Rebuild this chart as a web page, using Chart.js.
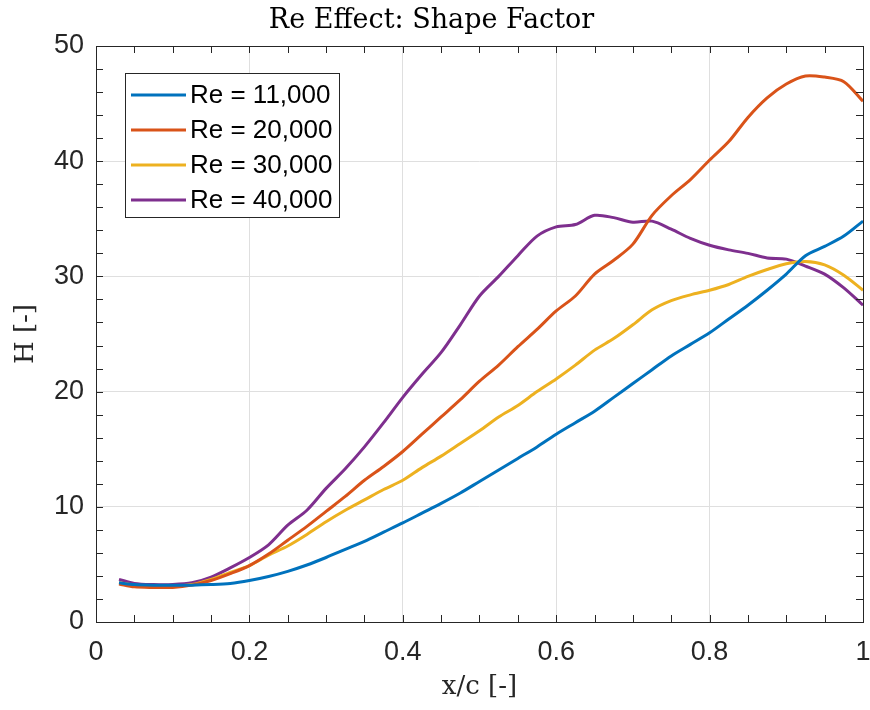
<!DOCTYPE html>
<html>
<head>
<meta charset="utf-8">
<title>Re Effect: Shape Factor</title>
<script src="https://cdn.jsdelivr.net/npm/chart.js@4/dist/chart.umd.min.js"></script>
<style>
  html, body { margin: 0; padding: 0; background: #ffffff; }
  canvas { display: block; }
</style>
</head>
<body>
<canvas id="chart" width="870" height="710"></canvas>
<script>
// Chordwise stations x/c shared by all runs
const xc = [0.03, 0.05, 0.075, 0.1, 0.125, 0.15, 0.175, 0.2, 0.225, 0.25,
            0.275, 0.3, 0.325, 0.35, 0.375, 0.4, 0.425, 0.45, 0.475, 0.5,
            0.525, 0.55, 0.575, 0.6, 0.625, 0.65, 0.675, 0.7, 0.725, 0.75,
            0.775, 0.8, 0.825, 0.85, 0.875, 0.9, 0.925, 0.95, 0.975, 1.0];

// Shape factor H for each Reynolds number
const hRe11k = [3.4, 3.25, 3.2, 3.2, 3.2, 3.25, 3.35, 3.6, 3.95, 4.4,
                4.95, 5.6, 6.3, 7.0, 7.8, 8.6, 9.45, 10.3, 11.2, 12.2,
                13.2, 14.2, 15.2, 16.3, 17.3, 18.3, 19.5, 20.7, 21.9, 23.1,
                24.1, 25.1, 26.3, 27.5, 28.8, 30.2, 31.8, 32.6, 33.5, 34.8];
const hRe20k = [3.3, 3.05, 3.0, 3.0, 3.2, 3.6, 4.2, 4.9, 5.9, 7.1,
                8.3, 9.6, 10.9, 12.3, 13.5, 14.8, 16.3, 17.8, 19.3, 20.9,
                22.3, 23.9, 25.4, 27.0, 28.3, 30.2, 31.4, 32.8, 35.3, 37.0,
                38.4, 40.1, 41.7, 43.8, 45.5, 46.7, 47.4, 47.3, 46.9, 45.2];
const hRe30k = [3.4, 3.2, 3.1, 3.1, 3.25, 3.7, 4.3, 4.9, 5.8, 6.6,
                7.6, 8.7, 9.7, 10.6, 11.5, 12.3, 13.4, 14.4, 15.5, 16.6,
                17.8, 18.8, 20.0, 21.1, 22.3, 23.6, 24.6, 25.8, 27.1, 27.9,
                28.4, 28.8, 29.3, 30.0, 30.6, 31.1, 31.3, 31.0, 30.1, 28.8];
const hRe40k = [3.7, 3.35, 3.25, 3.25, 3.4, 3.9, 4.7, 5.6, 6.7, 8.4,
                9.7, 11.6, 13.3, 15.2, 17.3, 19.5, 21.5, 23.4, 25.8, 28.3,
                30.0, 31.8, 33.5, 34.3, 34.5, 35.3, 35.1, 34.7, 34.8, 34.1,
                33.3, 32.7, 32.3, 32.0, 31.6, 31.5, 30.9, 30.2, 29.0, 27.5];

const seriesLabels = ['Re = 11,000', 'Re = 20,000', 'Re = 30,000', 'Re = 40,000'];
const seriesValues = [hRe11k, hRe20k, hRe30k, hRe40k];
const seriesColors = ['#0072BD', '#D95319', '#EDB120', '#7E2F8E'];

// Axis tick values
const xTicks = [0, 0.2, 0.4, 0.6, 0.8, 1];
const yTicks = [0, 10, 20, 30, 40, 50];
const xMinorStep = 0.05;
const yMinorStep = 2;

const axisInk = '#262626';
const sansFont = '"Liberation Sans", Arial, Helvetica, sans-serif';
const serifFont = '"DejaVu Serif", "Liberation Serif", serif';

const datasets = seriesValues.map((vals, i) => ({
  label: seriesLabels[i],
  data: xc.map((x, j) => ({ x: x, y: vals[j] })),
  borderColor: seriesColors[i],
  backgroundColor: seriesColors[i],
  borderWidth: 3,
  pointRadius: 0,
  tension: 0.3,
  fill: false
}));

// Box frame, inward ticks on all four sides, and the legend inside the axes
const framePlugin = {
  id: 'frame',
  afterDatasetsDraw(chart) {
    const { ctx, chartArea: a, scales } = chart;
    const xs = scales.x, ys = scales.y;
    const tickLen = 7;
    ctx.save();
    ctx.strokeStyle = axisInk;
    ctx.lineWidth = 1;
    ctx.beginPath();
    for (let v = xs.min; v <= xs.max + 1e-9; v += xMinorStep) {
      const px = Math.round(xs.getPixelForValue(v)) + 0.5;
      ctx.moveTo(px, a.bottom); ctx.lineTo(px, a.bottom - tickLen);
      ctx.moveTo(px, a.top); ctx.lineTo(px, a.top + tickLen);
    }
    for (let v = ys.min; v <= ys.max + 1e-9; v += yMinorStep) {
      const py = Math.round(ys.getPixelForValue(v)) + 0.5;
      ctx.moveTo(a.left, py); ctx.lineTo(a.left + tickLen, py);
      ctx.moveTo(a.right, py); ctx.lineTo(a.right - tickLen, py);
    }
    ctx.stroke();
    ctx.strokeRect(Math.round(a.left) + 0.5, Math.round(a.top) + 0.5,
                   Math.round(a.right - a.left), Math.round(a.bottom - a.top));

    // legend
    const lx = a.left + 29, ly = a.top + 27, lw = 214, lh = 144;
    const rowH = 35;
    ctx.fillStyle = '#ffffff';
    ctx.fillRect(lx, ly, lw, lh);
    ctx.strokeStyle = axisInk;
    ctx.strokeRect(lx + 0.5, ly + 0.5, lw, lh);
    ctx.font = '26px ' + sansFont;
    ctx.textBaseline = 'middle';
    ctx.textAlign = 'left';
    chart.data.datasets.forEach((ds, i) => {
      const cy = ly + 22 + i * rowH;
      ctx.strokeStyle = ds.borderColor;
      ctx.lineWidth = 3;
      ctx.beginPath();
      ctx.moveTo(lx + 6, cy);
      ctx.lineTo(lx + 61, cy);
      ctx.stroke();
      ctx.fillStyle = '#000000';
      ctx.fillText(ds.label, lx + 65, cy + 1);
    });
    ctx.restore();
  }
};

new Chart(document.getElementById('chart'), {
  type: 'line',
  data: { datasets: datasets },
  plugins: [framePlugin],
  options: {
    responsive: false,
    animation: false,
    layout: { padding: { top: 0, right: 7, bottom: 0, left: 0 } },
    plugins: {
      legend: { display: false },
      tooltip: { enabled: false },
      title: {
        display: true,
        text: 'Re Effect: Shape Factor',
        color: '#000000',
        font: { family: serifFont, size: 27, weight: 'normal', lineHeight: 1.2 },
        padding: { top: 5, bottom: 8.6 }
      }
    },
    scales: {
      x: {
        type: 'linear',
        min: 0,
        max: 1,
        afterBuildTicks(scale) { scale.ticks = xTicks.map(v => ({ value: v })); },
        afterFit(scale) {
          scale.height = 88;
          scale.paddingLeft = 0;
          scale.paddingRight = 0;
        },
        grid: { color: '#dfdfdf', lineWidth: 1, drawTicks: false },
        border: { display: false },
        ticks: {
          color: axisInk,
          padding: 14,
          maxRotation: 0,
          font: { family: sansFont, size: 27 },
          callback: v => String(v)
        },
        title: {
          display: true,
          text: 'x/c [-]',
          color: axisInk,
          font: { family: serifFont, size: 26, weight: 'normal', lineHeight: 1.2 },
          padding: { top: 0, bottom: 7.4 }
        }
      },
      y: {
        type: 'linear',
        min: 0,
        max: 50,
        afterBuildTicks(scale) { scale.ticks = yTicks.map(v => ({ value: v })); },
        afterFit(scale) {
          scale.width = 96;
          scale.paddingTop = 0;
          scale.paddingBottom = 0;
        },
        grid: { color: '#dfdfdf', lineWidth: 1, drawTicks: false },
        border: { display: false },
        ticks: {
          color: axisInk,
          padding: 12,
          font: { family: sansFont, size: 27 },
          callback: v => String(v)
        },
        title: {
          display: true,
          text: 'H [-]',
          color: axisInk,
          font: { family: serifFont, size: 26, weight: 'normal', lineHeight: 1.2 },
          padding: { top: 11, bottom: 0 }
        }
      }
    }
  }
});
</script>
</body>
</html>
